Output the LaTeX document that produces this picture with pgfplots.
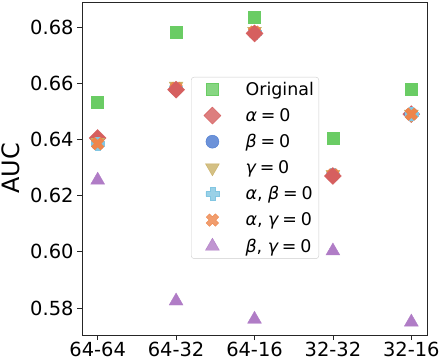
\documentclass[border=0pt]{standalone}
\usepackage{fontspec}
\setmainfont{DejaVu Sans}
\usepackage{pgfplots}
\pgfplotsset{compat=1.18}
\usetikzlibrary{calc}

\definecolor{cgreen}{HTML}{6ACC64}
\definecolor{cred}{HTML}{D65F5F}
\definecolor{cblue}{HTML}{4878D0}
\definecolor{ctan}{HTML}{C9B066}
\definecolor{ccyan}{HTML}{82C6E2}
\definecolor{corange}{HTML}{EE854A}
\definecolor{cpurple}{HTML}{B07CC6}

% filled plus / filled x / diamond like matplotlib's P, X and D
\pgfdeclareplotmark{Pplus}{%
  \pgfpathmoveto{\pgfpoint{-0.36*\pgfplotmarksize}{\pgfplotmarksize}}%
  \pgfpathlineto{\pgfpoint{0.36*\pgfplotmarksize}{\pgfplotmarksize}}%
  \pgfpathlineto{\pgfpoint{0.36*\pgfplotmarksize}{0.36*\pgfplotmarksize}}%
  \pgfpathlineto{\pgfpoint{\pgfplotmarksize}{0.36*\pgfplotmarksize}}%
  \pgfpathlineto{\pgfpoint{\pgfplotmarksize}{-0.36*\pgfplotmarksize}}%
  \pgfpathlineto{\pgfpoint{0.36*\pgfplotmarksize}{-0.36*\pgfplotmarksize}}%
  \pgfpathlineto{\pgfpoint{0.36*\pgfplotmarksize}{-\pgfplotmarksize}}%
  \pgfpathlineto{\pgfpoint{-0.36*\pgfplotmarksize}{-\pgfplotmarksize}}%
  \pgfpathlineto{\pgfpoint{-0.36*\pgfplotmarksize}{-0.36*\pgfplotmarksize}}%
  \pgfpathlineto{\pgfpoint{-\pgfplotmarksize}{-0.36*\pgfplotmarksize}}%
  \pgfpathlineto{\pgfpoint{-\pgfplotmarksize}{0.36*\pgfplotmarksize}}%
  \pgfpathlineto{\pgfpoint{-0.36*\pgfplotmarksize}{0.36*\pgfplotmarksize}}%
  \pgfpathclose
  \pgfusepathqfillstroke
}
\pgfdeclareplotmark{Xcross}{%
  \pgftransformrotate{45}%
  \pgfuseplotmark{Pplus}%
}
\pgfdeclareplotmark{Dmond}{%
  \pgfpathmoveto{\pgfpoint{0pt}{\pgfplotmarksize}}%
  \pgfpathlineto{\pgfpoint{\pgfplotmarksize}{0pt}}%
  \pgfpathlineto{\pgfpoint{0pt}{-\pgfplotmarksize}}%
  \pgfpathlineto{\pgfpoint{-\pgfplotmarksize}{0pt}}%
  \pgfpathclose
  \pgfusepathqfillstroke
}

\newcommand{\eqz}{\hspace{0.22em}=\hspace{0.22em}0}

\begin{document}
\begin{tikzpicture}
\begin{axis}[
  scale only axis,
  width=345bp, height=333bp,
  xmin=-0.2, xmax=4.2,
  ymin=0.5704, ymax=0.6889,
  xtick={0,1,2,3,4},
  xticklabels={64-64,64-32,64-16,32-32,32-16},
  ytick={0.58,0.60,0.62,0.64,0.66,0.68},
  yticklabel style={/pgf/number format/.cd, fixed, fixed zerofill, precision=2, assume math mode=true},
  tick label style={font=\fontsize{19.5}{22}\selectfont},
  xticklabel style={inner sep=1bp, yshift=-1bp},
  tick align=outside,
  major tick length=5bp,
  tick style={black!85, line width=0.8bp},
  axis line style={black!85, line width=0.8bp},
  xtick pos=bottom, ytick pos=left,
  ylabel={AUC},
  ylabel style={at={(axis description cs:-0.206,0.5)}, anchor=center, font=\fontsize{24}{28}\selectfont},
  legend cell align=left,
  legend image code/.code={%
    \path (-18bp,0bp) (31bp,0bp);
    \draw[#1] plot coordinates {(0bp,0bp)};},
  legend style={at={(0.316,0.775)}, anchor=north west,
    draw=black!20, rounded corners=3bp, fill=white, fill opacity=0.8, text opacity=1,
    font=\fontsize{17.5}{20}\selectfont, row sep=7.5bp, inner sep=3bp},
  only marks,
]
\addplot[mark=square*, mark size=6bp, draw=cgreen, fill=cgreen]
  coordinates {(0,0.6533) (1,0.6782) (2,0.6836) (3,0.6404) (4,0.6580)};
\addlegendentry{Original}
\addplot[mark=Dmond, mark size=8.5bp, draw=cred, fill=cred]
  coordinates {(0,0.6405) (4,0.6490)};
\addlegendentry{{\itshape α}\eqz}
\addplot[mark=*, mark size=6.5bp, draw=cblue, fill=cblue]
  coordinates {(0,0.6385) (1,0.6580) (2,0.6780) (3,0.6273) (4,0.6490)};
\addlegendentry{{\itshape β}\eqz}
\addplot[mark=triangle*, mark size=8bp, mark options={rotate=180}, draw=ctan, fill=ctan]
  coordinates {(0,0.6390) (1,0.6590) (2,0.6785) (3,0.6276) (4,0.6490)};
\addlegendentry{{\itshape γ}\eqz}
\addplot[mark=Pplus, mark size=6.5bp, draw=ccyan, fill=ccyan]
  coordinates {(0,0.6385) (1,0.6580) (2,0.6780) (3,0.6273) (4,0.6490)};
\addlegendentry{{\itshape α}, {\itshape β}\eqz}
\addplot[mark=Xcross, mark size=6.5bp, draw=corange, fill=corange]
  coordinates {(0,0.6385) (1,0.6582) (2,0.6782) (3,0.6274) (4,0.6490)};
\addlegendentry{{\itshape α}, {\itshape γ}\eqz}
\addplot[mark=triangle*, mark size=8bp, draw=cpurple, fill=cpurple]
  coordinates {(0,0.6255) (1,0.5825) (2,0.5760) (3,0.6003) (4,0.5750)};
\addlegendentry{{\itshape β}, {\itshape γ}\eqz}
% alpha = 0 points that sit on top of the others
\addplot[forget plot, mark=Dmond, mark size=8.5bp, draw=cred, fill=cred]
  coordinates {(1,0.6577) (2,0.6777) (3,0.6270)};
\end{axis}
\pgfresetboundingbox
\path[use as bounding box] ($(current axis.south west)+(-82bp,-25bp)$) rectangle ($(current axis.north east)+(12bp,2bp)$);
\end{tikzpicture}
\end{document}
